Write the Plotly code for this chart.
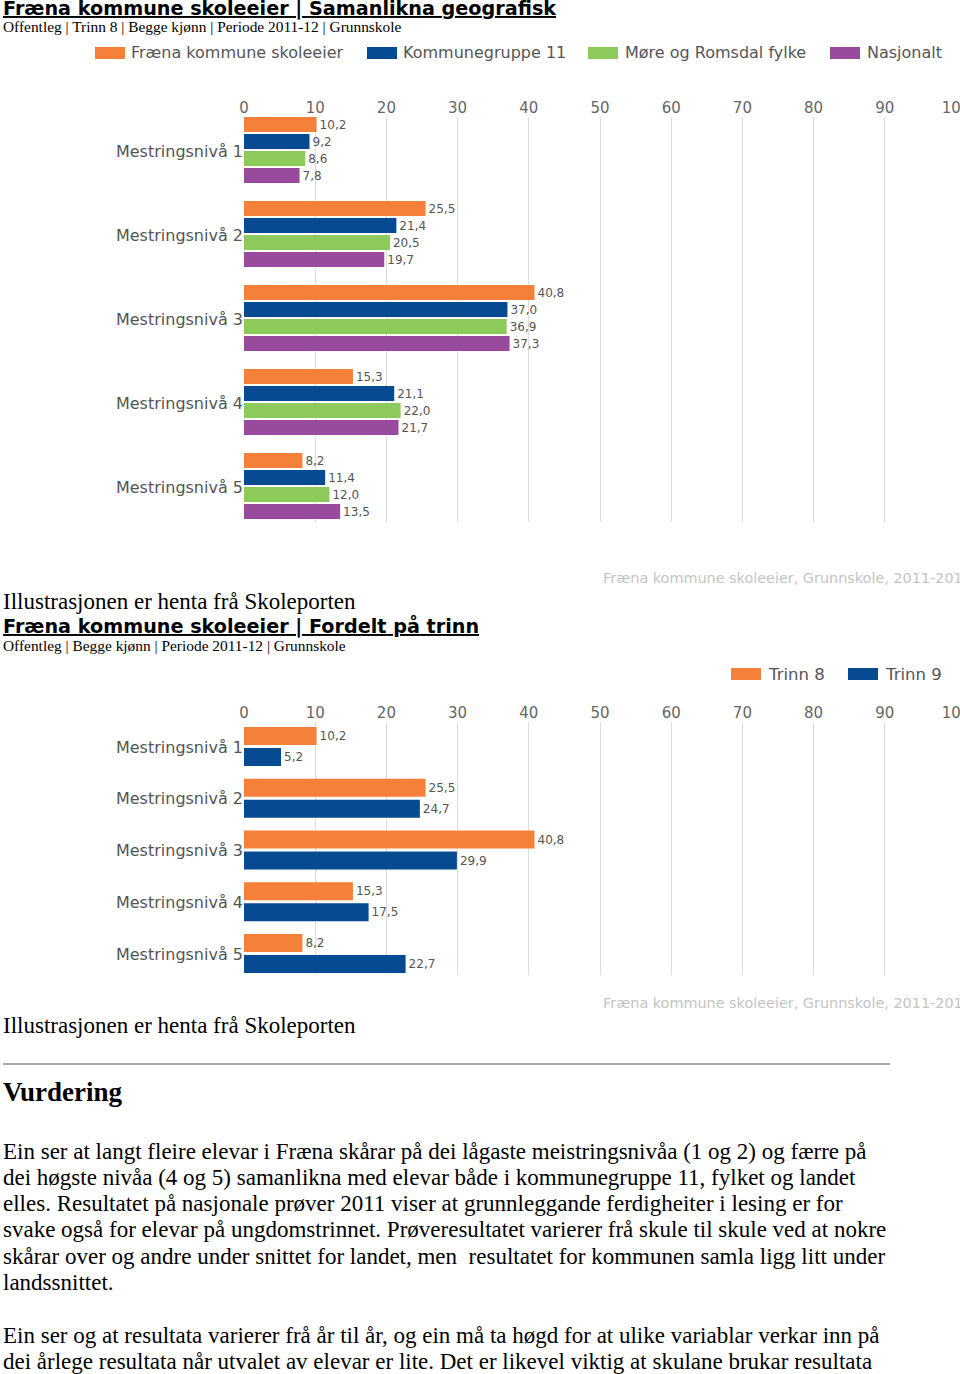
import plotly.graph_objects as go

W, H = 960, 1374

# ---------------- data ----------------
categories = ["Mestringsnivå 1", "Mestringsnivå 2", "Mestringsnivå 3", "Mestringsnivå 4", "Mestringsnivå 5"]
series1_names = ["Fræna kommune skoleeier", "Kommunegruppe 11", "Møre og Romsdal fylke", "Nasjonalt"]
fraena = [10.2, 25.5, 40.8, 15.3, 8.2]
kommunegruppe11 = [9.2, 21.4, 37.0, 21.1, 11.4]
fylke = [8.6, 20.5, 36.9, 22.0, 12.0]
nasjonalt = [7.8, 19.7, 37.3, 21.7, 13.5]

series2_names = ["Trinn 8", "Trinn 9"]
trinn8 = [10.2, 25.5, 40.8, 15.3, 8.2]
trinn9 = [5.2, 24.7, 29.9, 17.5, 22.7]

x_ticks = list(range(0, 101, 10))

colors1 = ["#F5803A", "#064A92", "#8DCA5C", "#984B9D"]
colors2 = ["#F5803A", "#064A92"]

CHART_FONT = "DejaVu Sans"
SERIF = "Liberation Serif"
PAD = 2  # annotation inner padding (px)


def px(x):
    return x / W


def py(y):
    return 1 - y / H


def fmt(v):
    return f"{v:.1f}".replace(".", ",")


fig = go.Figure()

# ---------------- chart 1 ----------------
vals1 = [fraena, kommunegruppe11, fylke, nasjonalt]
bar_w1 = 15 / 84
step1 = 17 / 84
start1 = -34 / 84
for i, (name, vals) in enumerate(zip(series1_names, vals1)):
    fig.add_trace(go.Bar(
        name=name, y=categories, x=vals, orientation="h",
        marker=dict(color=colors1[i], line=dict(width=0)),
        width=bar_w1, offset=start1 + i * step1,
        text=[fmt(v) for v in vals], textposition="outside",
        textfont=dict(family=CHART_FONT, size=12, color="#555555"),
        constraintext="none", cliponaxis=False,
        xaxis="x", yaxis="y", showlegend=False,
    ))

# ---------------- chart 2 ----------------
vals2 = [trinn8, trinn9]
bar_w2 = 18 / 51.75
offs2 = [-20 / 51.75, 1 / 51.75]
for i, (name, vals) in enumerate(zip(series2_names, vals2)):
    fig.add_trace(go.Bar(
        name=name, y=categories, x=vals, orientation="h",
        marker=dict(color=colors2[i], line=dict(width=0)),
        width=bar_w2, offset=offs2[i],
        text=[fmt(v) for v in vals], textposition="outside",
        textfont=dict(family=CHART_FONT, size=12, color="#555555"),
        constraintext="none", cliponaxis=False,
        xaxis="x2", yaxis="y2", showlegend=False,
    ))

xaxis_common = dict(
    range=[0, 100], tickvals=x_ticks, ticktext=[str(t) for t in x_ticks],
    side="top", showgrid=True, gridcolor="#dcdcdc", gridwidth=1,
    zeroline=False, showline=False, ticks="",
    tickfont=dict(family=CHART_FONT, size=15, color="#666666"),
    domain=[px(244), px(956)], fixedrange=True,
    automargin=False, ticklabeloverflow="allow",
)
yaxis_common = dict(
    type="category", showgrid=False, zeroline=False, showline=False, ticks="",
    tickfont=dict(family=CHART_FONT, size=16, color="#555555"),
    fixedrange=True, automargin=False,
)

# chart 1: gridlines 117..522, category centres at 151 + 84*i
y1_top, y1_bot, c1, s1 = 117, 522, 151, 84
# chart 2: gridlines 722..975, category centres at 747 + 51.75*i
y2_top, y2_bot, c2, s2 = 722, 975, 747, 51.75

fig.update_layout(
    width=W, height=H, margin=dict(l=0, r=0, t=0, b=0, autoexpand=False),
    paper_bgcolor="white", plot_bgcolor="white",
    barmode="group", showlegend=False,
    xaxis=dict(**xaxis_common, anchor="y"),
    yaxis=dict(**yaxis_common, anchor="x",
               domain=[py(y1_bot), py(y1_top)],
               range=[(y1_bot - c1) / s1, (y1_top - c1) / s1]),
    xaxis2=dict(**xaxis_common, anchor="y2"),
    yaxis2=dict(**yaxis_common, anchor="x2",
                domain=[py(y2_bot), py(y2_top)],
                range=[(y2_bot - c2) / s2, (y2_top - c2) / s2]),
)

annotations = []
shapes = []


def text(x, y, s, size, family, color="#000000", bold=False, under=False):
    if bold:
        s = f"<b>{s}</b>"
    font = dict(family=family, size=size, color=color)
    if under:
        font["lineposition"] = "under"
    annotations.append(dict(
        x=px(x - PAD), y=py(y), xref="paper", yref="paper", text=s, showarrow=False,
        xanchor="left", yanchor="middle", font=font, align="left",
    ))


# headings chart 1
text(3, 9, "Fræna kommune skoleeier | Samanlikna geografisk", 19.2, CHART_FONT, bold=True, under=True)
text(3, 27, "Offentleg | Trinn 8 | Begge kjønn | Periode 2011-12 | Grunnskole", 15.4, SERIF)

# legend chart 1
leg1 = [(95, 131), (367, 403), (588, 625), (830, 867)]
for (rx, tx), name, col in zip(leg1, series1_names, colors1):
    shapes.append(dict(type="rect", xref="paper", yref="paper",
                       x0=px(rx), x1=px(rx + 30), y0=py(59), y1=py(47),
                       fillcolor=col, line=dict(width=0)))
    text(tx, 53, name, 16, CHART_FONT, color="#555555")

text(603, 578, "Fræna kommune skoleeier, Grunnskole, 2011-2012", 14.4, CHART_FONT, color="#c4c4c4")
text(3, 601, "Illustrasjonen er henta frå Skoleporten", 23, SERIF)

# headings chart 2
text(3, 626, "Fræna kommune skoleeier | Fordelt på trinn", 19.2, CHART_FONT, bold=True, under=True)
text(3, 646, "Offentleg | Begge kjønn | Periode 2011-12 | Grunnskole", 15.4, SERIF)

leg2 = [(731, 768), (848, 885)]
for (rx, tx), name, col in zip(leg2, series2_names, colors2):
    shapes.append(dict(type="rect", xref="paper", yref="paper",
                       x0=px(rx), x1=px(rx + 30), y0=py(680), y1=py(668),
                       fillcolor=col, line=dict(width=0)))
    text(tx, 674, name, 16.5, CHART_FONT, color="#555555")

text(603, 1003, "Fræna kommune skoleeier, Grunnskole, 2011-2012", 14.4, CHART_FONT, color="#c4c4c4")
text(3, 1025, "Illustrasjonen er henta frå Skoleporten", 23, SERIF)

shapes.append(dict(type="line", xref="paper", yref="paper",
                   x0=px(3), x1=px(890), y0=py(1064), y1=py(1064),
                   line=dict(color="#aaaaaa", width=2)))

text(3, 1092, "Vurdering", 27, SERIF, bold=True)

paragraph = [
    (1151, "Ein ser at langt fleire elevar i Fræna skårar på dei lågaste meistringsnivåa (1 og 2) og færre på"),
    (1177, "dei høgste nivåa (4 og 5) samanlikna med elevar både i kommunegruppe 11, fylket og landet"),
    (1203, "elles. Resultatet på nasjonale prøver 2011 viser at grunnleggande ferdigheiter i lesing er for"),
    (1229, "svake også for elevar på ungdomstrinnet. Prøveresultatet varierer frå skule til skule ved at nokre"),
    (1256, "skårar over og andre under snittet for landet, men  resultatet for kommunen samla ligg litt under"),
    (1282, "landssnittet."),
    (1335, "Ein ser og at resultata varierer frå år til år, og ein må ta høgd for at ulike variablar verkar inn på"),
    (1361, "dei årlege resultata når utvalet av elevar er lite. Det er likevel viktig at skulane brukar resultata"),
]
for yy, line in paragraph:
    text(3, yy, line, 23, SERIF)

fig.update_layout(annotations=annotations, shapes=shapes)

fig.write_html("out.html", config={"displayModeBar": False},
               post_script="document.body.style.margin='0';")
